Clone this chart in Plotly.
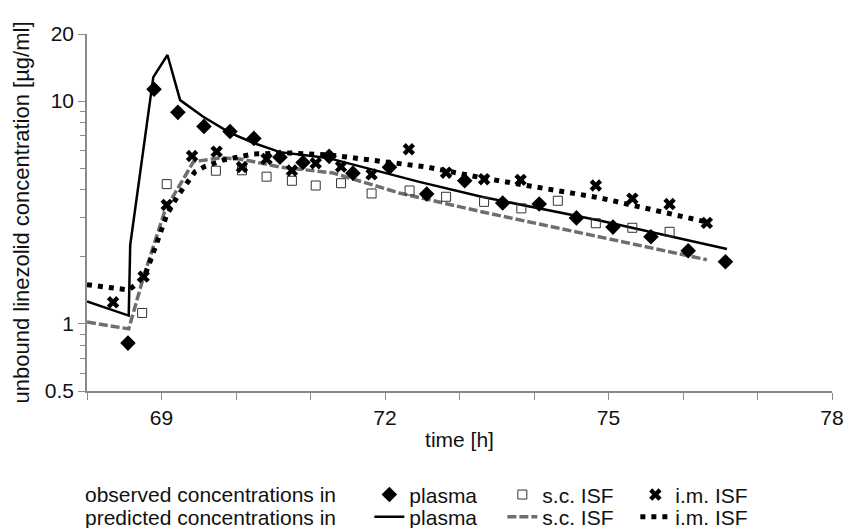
import plotly.graph_objects as go

# observed concentrations
plasma_t = [68.55, 68.90, 69.22, 69.57, 69.92, 70.24, 70.59, 70.90, 71.25, 71.57,
            72.06, 72.56, 73.07, 73.58, 74.07, 74.57, 75.06, 75.57, 76.07, 76.57]
plasma_c = [0.82, 11.3, 8.9, 7.7, 7.3, 6.8, 5.6, 5.3, 5.65, 4.75,
            5.05, 3.83, 4.39, 3.49, 3.45, 2.99, 2.72, 2.46, 2.13, 1.90]

sc_t = [68.74, 69.07, 69.73, 70.08, 70.41, 70.75, 71.07, 71.41, 71.82, 72.33,
        72.82, 73.33, 73.83, 74.32, 74.83, 75.32, 75.82]
sc_c = [1.12, 4.24, 4.87, 4.89, 4.58, 4.39, 4.18, 4.28, 3.85, 3.97,
        3.72, 3.53, 3.30, 3.57, 2.83, 2.70, 2.59]

im_t = [68.35, 68.76, 69.07, 69.41, 69.74, 70.08, 70.41, 70.75, 71.07, 71.41,
        71.82, 72.32, 72.82, 73.33, 73.82, 74.83, 75.32, 75.82, 76.32]
im_c = [1.25, 1.63, 3.42, 5.67, 5.93, 5.06, 5.50, 4.88, 5.26, 5.08,
        4.69, 6.08, 4.77, 4.46, 4.43, 4.18, 3.65, 3.45, 2.84]

# predicted concentrations
pred_plasma_t = [68.0, 68.56, 68.58, 68.89, 69.08, 69.25, 69.56, 69.92, 70.23, 70.59,
                 71.23, 71.97, 72.46, 73.31, 74.88, 76.59]
pred_plasma_c = [1.26, 1.09, 2.26, 12.8, 16.1, 10.1, 8.5, 7.2, 6.5, 5.9,
                 5.56, 4.81, 4.34, 3.71, 2.91, 2.17]

pred_sc_t = [68.0, 68.56, 68.76, 69.05, 69.43, 69.79, 70.05, 70.32, 70.59, 71.3,
             72.19, 73.31, 76.32]
pred_sc_c = [1.02, 0.95, 1.63, 3.25, 5.35, 5.56, 5.5, 5.28, 5.06, 4.76,
             3.87, 3.18, 1.94]

pred_im_t = [68.0, 68.56, 68.65, 68.78, 68.87, 68.96, 69.07, 69.21, 69.45, 69.58,
             69.83, 70.23, 70.72, 71.26, 71.83, 72.56, 73.31, 74.88, 76.31]
pred_im_c = [1.50, 1.42, 1.50, 1.66, 2.00, 2.46, 3.08, 3.72, 4.82, 5.08,
             5.44, 5.79, 5.85, 5.73, 5.44, 5.06, 4.52, 3.68, 2.87]

x_ticks = [69, 72, 75, 78]
x_minor = [68, 70, 71, 73, 74, 76, 77]
y_ticks = [0.5, 1, 10, 20]
y_tick_text = ["0.5", "1", "10", "20"]
y_minor = [0.6, 0.7, 0.8, 0.9, 2, 3, 4, 5, 6, 7, 8, 9]

FONT = "Liberation Sans, Arial, sans-serif"
AXIS_GREY = "#8a8a8a"
ROW1_Y = -0.291
ROW2_Y = -0.353

fig = go.Figure()

# predicted lines first so markers sit on top
fig.add_trace(go.Scatter(x=pred_plasma_t, y=pred_plasma_c, mode="lines", name="plasma",
                         line=dict(color="black", width=2.5), legend="legend2"))
fig.add_trace(go.Scatter(x=pred_sc_t, y=pred_sc_c, mode="lines", name="s.c. ISF",
                         line=dict(color="#6e6e6e", width=3.5, dash="9px,3px"),
                         legend="legend2"))
fig.add_trace(go.Scatter(x=pred_im_t, y=pred_im_c, mode="lines", name="i.m. ISF",
                         line=dict(color="black", width=5, dash="5px,6px"),
                         legend="legend2"))

fig.add_trace(go.Scatter(x=plasma_t, y=plasma_c, mode="markers", name="plasma",
                         marker=dict(symbol="diamond", size=12, color="black"),
                         legend="legend"))
fig.add_trace(go.Scatter(x=sc_t, y=sc_c, mode="markers", name="s.c. ISF",
                         marker=dict(symbol="square-open", size=9, color="#333333",
                                     line=dict(width=1)),
                         legend="legend"))
fig.add_trace(go.Scatter(x=im_t, y=im_c, mode="markers", name="i.m. ISF",
                         marker=dict(symbol="x", size=11, color="black"),
                         legend="legend"))

legend_common = dict(orientation="h", x=0.379, xanchor="left", yanchor="middle",
                     font=dict(family=FONT, size=21, color="#111111"),
                     bgcolor="rgba(0,0,0,0)", itemwidth=30, tracegroupgap=0,
                     entrywidth=88)

fig.update_layout(
    width=846, height=528,
    margin=dict(l=87, r=14, t=34, b=137, autoexpand=False),
    paper_bgcolor="white", plot_bgcolor="white",
    font=dict(family=FONT, size=21, color="#111111"),
    legend=dict(y=ROW1_Y, **legend_common),
    legend2=dict(y=ROW2_Y, **legend_common),
    xaxis=dict(range=[68, 78], tickvals=x_ticks, ticks="outside", ticklen=7,
               tickcolor=AXIS_GREY, showline=True, linecolor=AXIS_GREY, linewidth=1.5,
               showgrid=False, zeroline=False,
               minor=dict(tickvals=x_minor, ticks="outside", ticklen=7,
                          tickcolor=AXIS_GREY, showgrid=False),
               title=dict(text="time [h]", standoff=4, font=dict(size=21))),
    yaxis=dict(type="log", range=[-0.30103, 1.30103], tickvals=y_ticks,
               ticktext=y_tick_text, ticks="outside", ticklen=7, tickcolor=AXIS_GREY,
               showline=True, linecolor=AXIS_GREY, linewidth=1.5,
               showgrid=False, zeroline=False,
               minor=dict(tickvals=y_minor, ticks="outside", ticklen=5,
                          tickcolor=AXIS_GREY, showgrid=False),
               title=dict(text="unbound linezolid concentration [µg/ml]", standoff=9,
                          font=dict(size=22))),
)

# row labels in front of the two legends
fig.add_annotation(text="observed concentrations in", xref="paper", yref="paper",
                   x=-0.0054, y=ROW1_Y, xanchor="left", yanchor="middle",
                   showarrow=False, font=dict(family=FONT, size=21, color="#111111"))
fig.add_annotation(text="predicted concentrations in", xref="paper", yref="paper",
                   x=-0.0054, y=ROW2_Y, xanchor="left", yanchor="middle",
                   showarrow=False, font=dict(family=FONT, size=21, color="#111111"))

# drop the browser's default body margin so the figure fills the window exactly
fig.write_html("out.html", config={"displayModeBar": False},
               post_script="document.body.style.margin = '0';")
